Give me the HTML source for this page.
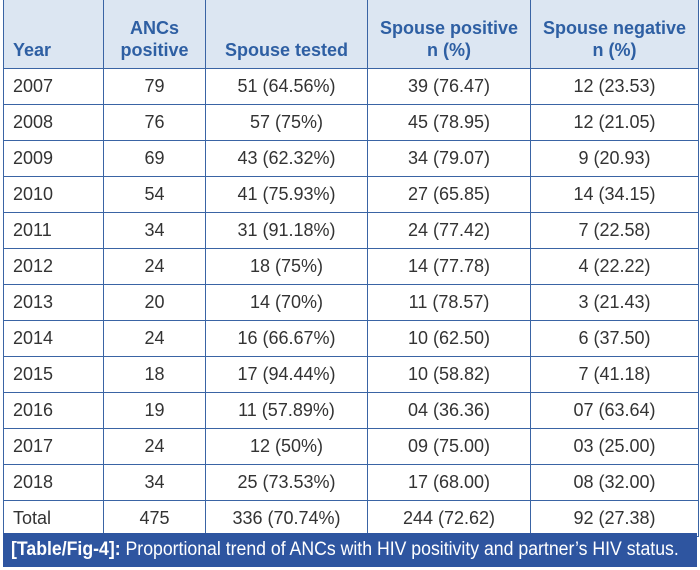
<!DOCTYPE html>
<html><head><style>
body{margin:0;width:700px;height:570px;background:#fff;position:relative;overflow:hidden;font-family:"Liberation Sans",sans-serif;}
table{position:absolute;left:3px;top:0;border-collapse:collapse;table-layout:fixed;width:695px;}
td,th{border:1.3px solid #3a64a4;height:35px;padding:0;font-size:18px;color:#333;text-align:center;font-weight:normal;}
th{background:#dce6f2;color:#2e5fa3;font-weight:bold;height:61px;vertical-align:bottom;padding-bottom:7px;line-height:22px;font-size:18px;}
tr>*:first-child{text-align:left;padding-left:9px;}
table tr:first-child th{border-top:none;}
.cap{position:absolute;left:3px;top:533px;width:694px;height:34px;background:#2e55a0;box-sizing:border-box;overflow:hidden;}
.cap span{position:absolute;left:8px;top:0;color:#fff;font-size:19px;line-height:34px;white-space:nowrap;transform:scaleX(0.93);transform-origin:0 50%;}
</style></head><body>
<table>
<colgroup><col style="width:100px"><col style="width:102px"><col style="width:162px"><col style="width:163px"><col style="width:168px"></colgroup>
<tr><th>Year</th><th>ANCs<br>positive</th><th>Spouse tested</th><th>Spouse positive<br>n (%)</th><th>Spouse negative<br>n (%)</th></tr>
<tr><td>2007</td><td>79</td><td>51 (64.56%)</td><td>39 (76.47)</td><td>12 (23.53)</td></tr>
<tr><td>2008</td><td>76</td><td>57 (75%)</td><td>45 (78.95)</td><td>12 (21.05)</td></tr>
<tr><td>2009</td><td>69</td><td>43 (62.32%)</td><td>34 (79.07)</td><td>9 (20.93)</td></tr>
<tr><td>2010</td><td>54</td><td>41 (75.93%)</td><td>27 (65.85)</td><td>14 (34.15)</td></tr>
<tr><td>2011</td><td>34</td><td>31 (91.18%)</td><td>24 (77.42)</td><td>7 (22.58)</td></tr>
<tr><td>2012</td><td>24</td><td>18 (75%)</td><td>14 (77.78)</td><td>4 (22.22)</td></tr>
<tr><td>2013</td><td>20</td><td>14 (70%)</td><td>11 (78.57)</td><td>3 (21.43)</td></tr>
<tr><td>2014</td><td>24</td><td>16 (66.67%)</td><td>10 (62.50)</td><td>6 (37.50)</td></tr>
<tr><td>2015</td><td>18</td><td>17 (94.44%)</td><td>10 (58.82)</td><td>7 (41.18)</td></tr>
<tr><td>2016</td><td>19</td><td>11 (57.89%)</td><td>04 (36.36)</td><td>07 (63.64)</td></tr>
<tr><td>2017</td><td>24</td><td>12 (50%)</td><td>09 (75.00)</td><td>03 (25.00)</td></tr>
<tr><td>2018</td><td>34</td><td>25 (73.53%)</td><td>17 (68.00)</td><td>08 (32.00)</td></tr>
<tr><td>Total</td><td>475</td><td>336 (70.74%)</td><td>244 (72.62)</td><td>92 (27.38)</td></tr>
</table>
<div class="cap"><span><b>[Table/Fig-4]:</b> Proportional trend of ANCs with HIV positivity and partner’s HIV status.</span></div>
</body></html>
